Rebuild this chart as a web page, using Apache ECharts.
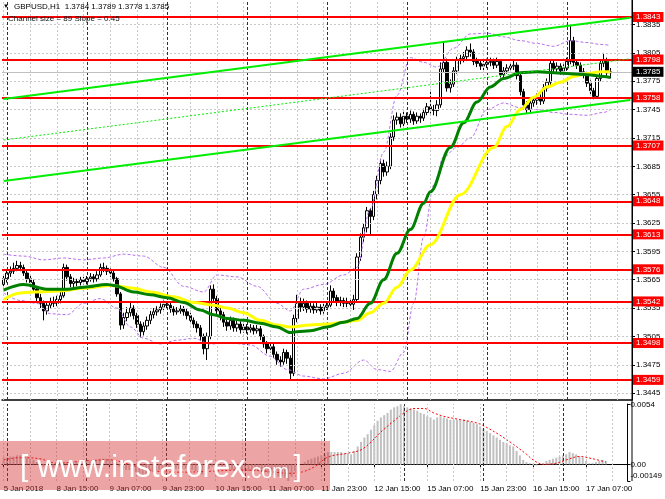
<!DOCTYPE html>
<html><head><meta charset="utf-8">
<script src="https://cdn.jsdelivr.net/npm/echarts@6/dist/echarts.min.js"></script>
<style>html,body{margin:0;padding:0;background:#fff}#c{width:665px;height:499px}</style>
</head><body><div id="c"></div>
<script>
const FONT = '"Liberation Sans", Arial, sans-serif';
const symbolName = 'GBPUSD,H1';
const channelText = 'Channel size = 89 Slope = 0.45';
const firstOpen = 1.3560;
const closes = [
1.3566,1.3572,1.3574,1.3577,1.3580,1.3578,1.3572,1.3566,1.3562,1.3555,
1.3546,1.3540,1.3532,1.3538,1.3542,1.3540,1.3544,1.3548,1.3578,1.3568,
1.3561,1.3563,1.3562,1.3565,1.3563,1.3566,1.3568,1.3566,1.3570,1.3578,
1.3577,1.3574,1.3572,1.3566,1.3550,1.3517,1.3525,1.3530,1.3535,1.3527,
1.3518,1.3510,1.3516,1.3522,1.3528,1.3531,1.3533,1.3536,1.3539,1.3538,
1.3534,1.3531,1.3532,1.3534,1.3531,1.3527,1.3522,1.3518,1.3514,1.3505,
1.3492,1.3505,1.3555,1.3545,1.3532,1.3528,1.3520,1.3516,1.3522,1.3514,
1.3518,1.3512,1.3515,1.3512,1.3514,1.3511,1.3513,1.3505,1.3497,1.3492,
1.3494,1.3486,1.3480,1.3478,1.3488,1.3482,1.3466,1.3524,1.3540,1.3536,
1.3540,1.3534,1.3537,1.3533,1.3536,1.3532,1.3536,1.3538,1.3553,1.3546,
1.3541,1.3543,1.3540,1.3542,1.3539,1.3544,1.3589,1.3610,1.3620,1.3638,
1.3632,1.3655,1.3670,1.3688,1.3679,1.3685,1.3716,1.3734,1.3737,1.3730,
1.3738,1.3735,1.3740,1.3733,1.3738,1.3736,1.3742,1.3748,1.3745,1.3744,
1.3750,1.3788,1.3795,1.3768,1.3772,1.3786,1.3797,1.3799,1.3801,1.3808,
1.3806,1.3796,1.3794,1.3791,1.3793,1.3795,1.3796,1.3792,1.3796,1.3782,
1.3786,1.3789,1.3791,1.3792,1.3781,1.3764,1.3750,1.3745,1.3752,1.3755,
1.3758,1.3754,1.3768,1.3774,1.3794,1.3788,1.3791,1.3786,1.3789,1.3796,
1.3818,1.3795,1.3792,1.3785,1.3782,1.3773,1.3765,1.3759,1.3778,1.3794,
1.3797,1.3784,1.3785];
const highs = [
1.3570,1.3576,1.3579,1.3583,1.3585,1.3584,1.3581,1.3575,1.3569,1.3565,
1.3558,1.3550,1.3543,1.3541,1.3546,1.3547,1.3548,1.3553,1.3582,1.3581,
1.3571,1.3567,1.3566,1.3568,1.3568,1.3569,1.3572,1.3571,1.3574,1.3582,
1.3583,1.3580,1.3577,1.3575,1.3568,1.3552,1.3530,1.3536,1.3541,1.3538,
1.3530,1.3521,1.3520,1.3526,1.3532,1.3535,1.3537,1.3540,1.3543,1.3542,
1.3541,1.3537,1.3536,1.3538,1.3537,1.3534,1.3530,1.3525,1.3521,1.3517,
1.3508,1.3509,1.3559,1.3560,1.3548,1.3537,1.3531,1.3524,1.3526,1.3525,
1.3522,1.3521,1.3519,1.3518,1.3518,1.3517,1.3517,1.3516,1.3507,1.3500,
1.3498,1.3497,1.3489,1.3484,1.3492,1.3491,1.3485,1.3528,1.3549,1.3546,
1.3545,1.3543,1.3541,1.3540,1.3541,1.3539,1.3540,1.3542,1.3559,1.3556,
1.3549,1.3547,1.3546,1.3546,1.3545,1.3549,1.3593,1.3614,1.3625,1.3642,
1.3641,1.3659,1.3675,1.3693,1.3692,1.3690,1.3720,1.3739,1.3742,1.3741,
1.3743,1.3742,1.3744,1.3743,1.3742,1.3741,1.3746,1.3752,1.3766,1.3750,
1.3755,1.3795,1.3817,1.3799,1.3777,1.3790,1.3801,1.3803,1.3806,1.3812,
1.3815,1.3809,1.3800,1.3797,1.3797,1.3799,1.3800,1.3799,1.3800,1.3798,
1.3790,1.3793,1.3795,1.3797,1.3795,1.3784,1.3767,1.3754,1.3756,1.3759,
1.3762,1.3761,1.3772,1.3778,1.3798,1.3797,1.3795,1.3794,1.3793,1.3800,
1.3835,1.3822,1.3798,1.3795,1.3789,1.3785,1.3776,1.3768,1.3781,1.3798,
1.3805,1.3800,1.3789];
const lows = [
1.3556,1.3562,1.3568,1.3571,1.3574,1.3574,1.3569,1.3562,1.3558,1.3551,
1.3542,1.3535,1.3522,1.3528,1.3534,1.3536,1.3537,1.3540,1.3546,1.3564,
1.3557,1.3557,1.3558,1.3559,1.3560,1.3560,1.3563,1.3562,1.3563,1.3568,
1.3573,1.3570,1.3568,1.3563,1.3547,1.3512,1.3513,1.3521,1.3526,1.3523,
1.3514,1.3504,1.3506,1.3512,1.3518,1.3524,1.3527,1.3529,1.3532,1.3534,
1.3530,1.3527,1.3528,1.3529,1.3527,1.3523,1.3518,1.3514,1.3509,1.3500,
1.3486,1.3480,1.3502,1.3541,1.3528,1.3522,1.3515,1.3511,1.3512,1.3510,
1.3510,1.3508,1.3509,1.3508,1.3509,1.3507,1.3508,1.3501,1.3493,1.3487,
1.3488,1.3482,1.3475,1.3473,1.3475,1.3476,1.3459,1.3463,1.3520,1.3531,
1.3532,1.3530,1.3530,1.3529,1.3530,1.3528,1.3529,1.3533,1.3536,1.3542,
1.3537,1.3537,1.3536,1.3536,1.3535,1.3533,1.3541,1.3585,1.3605,1.3615,
1.3612,1.3628,1.3650,1.3666,1.3674,1.3675,1.3682,1.3712,1.3729,1.3726,
1.3727,1.3731,1.3731,1.3729,1.3730,1.3731,1.3733,1.3739,1.3741,1.3739,
1.3738,1.3747,1.3784,1.3764,1.3763,1.3769,1.3783,1.3793,1.3795,1.3797,
1.3801,1.3792,1.3790,1.3787,1.3787,1.3789,1.3791,1.3788,1.3789,1.3779,
1.3778,1.3783,1.3785,1.3787,1.3777,1.3760,1.3746,1.3741,1.3742,1.3748,
1.3750,1.3750,1.3751,1.3764,1.3771,1.3784,1.3785,1.3782,1.3783,1.3786,
1.3793,1.3791,1.3788,1.3781,1.3778,1.3769,1.3761,1.3756,1.3757,1.3775,
1.3790,1.3780,1.3778];
const slotCount = 189;
const xTickEvery = 16;
const xTickLabels = ['5 Jan 2018','8 Jan 15:00','9 Jan 07:00','9 Jan 23:00','10 Jan 15:00','11 Jan 07:00','11 Jan 23:00','12 Jan 15:00','15 Jan 07:00','15 Jan 23:00','16 Jan 15:00','17 Jan 07:00'];
const gridEvery = 8;
const daySeparators = [1,25,49,73,97,121,145,169];
const priceMin = 1.34377, priceMax = 1.38610;
const priceTicks = [1.3445,1.3475,1.3505,1.3535,1.3565,1.3595,1.3625,1.3655,1.3685,1.3715,1.3745,1.3775,1.3805,1.3835];
const levels = [1.3843,1.3798,1.3758,1.3707,1.3648,1.3613,1.3576,1.3542,1.3498,1.3459];
const maGreen = [[0,1.3554],[6,1.3560],[13,1.3555],[19,1.3555],[24,1.3557],[31,1.3560],[33,1.3559],[39,1.3552],[44,1.3549],[49,1.3546],[54,1.3541],[59,1.3533],[63,1.3528],[67,1.3524],[72,1.3522],[77,1.3519],[82,1.3515],[86,1.3509],[88,1.3510],[92,1.3511],[97,1.3515],[102,1.3520],[106,1.3524],[110,1.3540],[114,1.3565],[118,1.3593],[122,1.3618],[126,1.3646],[128,1.3658],[134,1.3705],[138,1.3731],[142,1.3753],[146,1.3769],[150,1.3778],[155,1.3784],[160,1.3785],[165,1.3784],[170,1.3783],[175,1.3782],[180,1.3780],[182,1.3779]];
const maYellow = [[0,1.3544],[5,1.3551],[9,1.3552],[17,1.3553],[24,1.3556],[32,1.3559],[39,1.3556],[44,1.3552],[51,1.3547],[57,1.3541],[63,1.3538],[67,1.3535],[72,1.3530],[77,1.3522],[82,1.3517],[86,1.3515],[92,1.3517],[97,1.3518],[102,1.3520],[106,1.3522],[110,1.3530],[114,1.3540],[118,1.3557],[122,1.3575],[128,1.3602],[137,1.3655],[147,1.3705],[151,1.3727],[155,1.3745],[159,1.3758],[163,1.3769],[167,1.3774],[171,1.3780],[175,1.3783],[179,1.3785],[182,1.3785]];
const bandUpper = [[0,1.3592],[6,1.3590],[12,1.3586],[18,1.3588],[24,1.3586],[30,1.3588],[36,1.3592],[42,1.3590],[48,1.3578],[54,1.3558],[60,1.3552],[64,1.3570],[70,1.3568],[76,1.3558],[82,1.3540],[86,1.3532],[90,1.3555],[96,1.3560],[102,1.3570],[106,1.3578],[110,1.3640],[114,1.3700],[118,1.3760],[122,1.3800],[126,1.3795],[130,1.3790],[135,1.3810],[140,1.3825],[145,1.3826],[150,1.3822],[155,1.3818],[160,1.3815],[165,1.3812],[170,1.3818],[175,1.3816],[179,1.3814],[182,1.3813]];
const bandLower = [[0,1.3551],[5,1.3543],[10,1.3540],[14,1.3529],[19,1.3528],[24,1.3540],[29,1.3545],[34,1.3535],[38,1.3515],[42,1.3503],[47,1.3497],[52,1.3501],[57,1.3503],[62,1.3497],[68,1.3498],[74,1.3496],[80,1.3484],[85,1.3470],[90,1.3463],[96,1.3460],[102,1.3466],[108,1.3480],[112,1.3470],[116,1.3468],[120,1.3488],[123,1.3540],[126,1.3610],[129,1.3665],[132,1.3695],[136,1.3705],[140,1.3715],[145,1.3745],[150,1.3752],[155,1.3747],[160,1.3745],[165,1.3742],[170,1.3740],[175,1.3739],[180,1.3742],[182,1.3745]];
const channelUpper = [[0,1.37562],[188,1.38422]];
const channelMiddle = [[0,1.37128],[188,1.37988]];
const channelLower = [[0,1.36695],[188,1.37552]];
const macdHist = [
0.0006,0.0006,0.0007,0.0007,0.0008,0.0008,0.0007,0.0006,0.0005,0.0004,
0.0002,0.0000,-0.0002,-0.0003,-0.0003,-0.0003,-0.0003,-0.0002,0.0001,0.0002,
0.0002,0.0002,0.0002,0.0002,0.0003,0.0003,0.0003,0.0003,0.0004,0.0005,
0.0005,0.0005,0.0005,0.0004,0.0002,-0.0002,-0.0004,-0.0005,-0.0005,-0.0006,
-0.0007,-0.0009,-0.0009,-0.0009,-0.0008,-0.0007,-0.0006,-0.0005,-0.0004,-0.0004,
-0.0004,-0.0004,-0.0004,-0.0004,-0.0004,-0.0004,-0.0005,-0.0005,-0.0006,-0.0007,
-0.0009,-0.0009,-0.0004,-0.0002,-0.0002,-0.0002,-0.0003,-0.0004,-0.0004,-0.0005,
-0.0005,-0.0006,-0.0006,-0.0006,-0.0006,-0.0006,-0.0006,-0.0006,-0.0007,-0.0007,
-0.0008,-0.0009,-0.0010,-0.0011,-0.0011,-0.0012,-0.00149,-0.0011,-0.0006,-0.0003,
0.0000,0.0002,0.0004,0.0005,0.0006,0.0007,0.0008,0.0009,0.0011,0.0011,
0.0011,0.0011,0.0011,0.0010,0.0010,0.0009,0.0012,0.0016,0.0020,0.0024,
0.0027,0.0031,0.0035,0.0039,0.0042,0.0044,0.0046,0.0049,0.0051,0.0052,
0.0054,0.0052,0.0051,0.0050,0.0049,0.0048,0.0046,0.0045,0.0043,0.0042,
0.0040,0.0042,0.0043,0.0042,0.0041,0.0040,0.0040,0.0040,0.0040,0.0040,
0.0039,0.0038,0.0037,0.0036,0.0034,0.0032,0.0030,0.0028,0.0026,0.0024,
0.0022,0.0020,0.0019,0.0017,0.0016,0.0012,0.0008,0.0004,0.0002,0.0001,
-0.0001,-0.0001,0.0000,0.0001,0.0003,0.0004,0.0005,0.0006,0.0007,0.0008,
0.0009,0.0011,0.0010,0.0009,0.0007,0.0006,0.0003,0.0001,0.0001,0.0002,
0.0003,0.0004,0.0003];
const macdSignal = [[0,0.0004],[5,0.0006],[11,0.0005],[16,0.0001],[24,0.0003],[32,0.0004],[39,-0.0001],[46,-0.0006],[54,-0.0007],[64,-0.0006],[71,-0.0005],[79,-0.0006],[86,-0.0008],[90,-0.0007],[94,-0.0002],[98,0.00065],[104,0.0010],[108,0.0013],[111,0.0020],[114,0.0029],[118,0.0039],[121,0.0046],[124,0.0050],[127,0.0050],[130,0.0046],[133,0.0043],[138,0.0040],[143,0.0037],[146,0.0033],[150,0.0026],[154,0.0018],[158,0.0009],[160,0.0004],[163,0.0000],[167,0.0001],[170,0.0004],[174,0.0007],[178,0.0005],[182,0.0002]];
const macdMin = -0.00149, macdMax = 0.0054;
const macdTicks = [0.0054, 0, -0.00149];

const chart = echarts.init(document.getElementById('c'), null, {renderer:'canvas', width:665, height:499});
const cats = Array.from({length: slotCount}, (_, i) => i);
const candleData = closes.map((c, i) => {
  const o = i === 0 ? firstOpen : closes[i - 1];
  return [o, c, Math.min(lows[i], o, c), Math.max(highs[i], o, c)];
});
const last = candleData[candleData.length - 1];
const gridCols = cats.filter(i => i % gridEvery === 0);

const lightV = gridCols.map(i => ({xAxis: i}));
const darkV = daySeparators.map(i => ({xAxis: i, lineStyle: {color: '#303030', type: [3, 2], width: 1}}));
const lightH = priceTicks.map(v => ({yAxis: v}));
const ml = (data, style) => ({symbol: ['none','none'], precision: 6, silent: true, animation: false, label: {show: false}, lineStyle: style, data});
const gridStyle = {color: '#c8c8c8', type: [2, 2], width: 1};

const lineS = (name, data, color, width, type, z) => ({
  name, type: 'line', xAxisIndex: 0, yAxisIndex: 0, data, smooth: 0.35, smoothMonotone: 'x',
  showSymbol: false, symbol: 'none', silent: true, animation: false, z,
  lineStyle: {color, width, type}
});

const macdLabel = v => {
  const n = Number(v);
  if (n === macdMax) return '{t|' + String(n) + '}';
  if (n === macdMin) return '{b|' + String(n) + '}';
  return n === 0 ? '0.00' : String(n);
};

const option = {
  animation: false,
  backgroundColor: '#ffffff',
  textStyle: {fontFamily: FONT},
  grid: [
    {left: 2, width: 630, top: 0, height: 400},
    {left: 2, width: 630, top: 404, height: 77}
  ],
  xAxis: [
    {type: 'category', gridIndex: 0, data: cats, boundaryGap: true,
     axisLine: {show: true, lineStyle: {color: '#000', width: 1.5}}, axisTick: {show: false}, axisLabel: {show: false}, splitLine: {show: false}},
    {type: 'category', gridIndex: 1, data: cats, boundaryGap: true,
     axisLine: {show: true, lineStyle: {color: '#000', width: 1}},
     axisTick: {show: true, alignWithLabel: true, length: 3, interval: (i) => i % xTickEvery === 0, lineStyle: {color: '#000'}},
     axisLabel: {show: true, interval: (i) => i % xTickEvery === 0, align: 'left', margin: 4, fontSize: 8, color: '#000', fontFamily: FONT,
       formatter: (v, idx) => xTickLabels[Math.round(Number(v) / xTickEvery)] || ''},
     splitLine: {show: false}}
  ],
  yAxis: [
    {type: 'value', gridIndex: 0, position: 'right', min: priceMin, max: priceMax, scale: true,
     axisLine: {show: true, lineStyle: {color: '#000', width: 1}},
     axisTick: {show: true, length: 3, customValues: priceTicks, lineStyle: {color: '#000'}},
     axisLabel: {show: true, customValues: priceTicks, formatter: v => Number(v).toFixed(4), margin: 4, fontSize: 8, color: '#000', fontFamily: FONT},
     splitLine: {show: false}},
    {type: 'value', gridIndex: 1, position: 'right', min: macdMin, max: macdMax,
     axisLine: {show: true, lineStyle: {color: '#000', width: 1}},
     axisTick: {show: true, length: 3, customValues: macdTicks, lineStyle: {color: '#000'}},
     axisLabel: {show: true, customValues: macdTicks, margin: 3, fontSize: 8, color: '#000', fontFamily: FONT,
       formatter: macdLabel,
       rich: {t: {fontSize: 8, fontFamily: FONT, color: '#000', padding: [2, 0, 0, 0]},
              b: {fontSize: 8, fontFamily: FONT, color: '#000', padding: [0, 0, 11, 0]}}},
     splitLine: {show: false}}
  ],
  series: [
    {type: 'line', xAxisIndex: 0, yAxisIndex: 0, data: [], z: 1, silent: true,
     markLine: ml(lightV.concat(lightH).concat(darkV), gridStyle)},
    {type: 'line', xAxisIndex: 1, yAxisIndex: 1, data: [], z: 1, silent: true,
     markLine: ml(lightV.concat(darkV), gridStyle)},
    {type: 'candlestick', xAxisIndex: 0, yAxisIndex: 0, data: candleData, barWidth: 2.6, z: 3, silent: true, animation: false,
     itemStyle: {color: '#ffffff', color0: '#000000', borderColor: '#000000', borderColor0: '#000000', borderWidth: 1},
     markLine: {symbol: ['none','none'], precision: 6, silent: true, animation: false,
       data: [{yAxis: last[1]}],
       lineStyle: {color: '#c0c0c0', width: 1, type: 'solid'},
       label: {show: true, position: 'end', distance: 1, formatter: p => Number(p.value).toFixed(4), color: '#fff', backgroundColor: '#000', padding: [1, 3, 0, 3], fontSize: 8, fontFamily: FONT, lineHeight: 9}}},
    lineS('bbU', bandUpper, '#b86fee', 1, [3, 2], 4),
    lineS('bbL', bandLower, '#b86fee', 1, [3, 2], 4),
    lineS('ma50', maYellow, '#ffff00', 3, 'solid', 5),
    lineS('ma30', maGreen, '#008000', 3, 'solid', 6),
    Object.assign(lineS('chU', channelUpper, '#00ee00', 2, 'solid', 6), {smooth: false}),
    Object.assign(lineS('chM', channelMiddle, '#00ee00', 1, [2, 2], 6), {smooth: false}),
    Object.assign(lineS('chL', channelLower, '#00ee00', 2, 'solid', 6), {smooth: false}),
    {type: 'line', xAxisIndex: 0, yAxisIndex: 0, data: [], z: 7, silent: true,
     markLine: {symbol: ['none','none'], precision: 6, silent: true, animation: false,
       lineStyle: {color: '#ff0000', width: 2, type: 'solid'},
       label: {show: true, position: 'end', distance: 1, formatter: p => Number(p.value).toFixed(4), color: '#fff', backgroundColor: '#ff0000', padding: [1, 3, 0, 3], fontSize: 8, fontFamily: FONT, lineHeight: 9},
       data: levels.map(v => ({yAxis: v}))}},
    {type: 'bar', xAxisIndex: 1, yAxisIndex: 1, data: macdHist, barWidth: 2, silent: true, animation: false, z: 3,
     itemStyle: {color: '#c0c0c0'}},
    {type: 'line', xAxisIndex: 1, yAxisIndex: 1, data: macdSignal, smooth: 0.35, showSymbol: false, symbol: 'none', silent: true, animation: false, z: 4,
     lineStyle: {color: '#ff0000', width: 1, type: [2, 2]}}
  ],
  graphic: [
    {type: 'line', silent: true, z: 50, shape: {x1: 632, y1: 0, x2: 632, y2: 481}, style: {stroke: '#000', lineWidth: 1}},
    {type: 'text', silent: true, z: 50, left: 3, top: 3, style: {text: '\u25BC', fontSize: 6, fill: '#000', fontFamily: FONT}},
    {type: 'text', silent: true, z: 50, left: 14, top: 3,
     style: {text: symbolName + '  ' + [last[0], last[3], last[2], last[1]].map(v => v.toFixed(4)).join(' '), fontSize: 8, fill: '#000', fontFamily: FONT}},
    {type: 'text', silent: true, z: 50, left: 8, top: 15, style: {text: channelText, fontSize: 8, fill: '#111', fontFamily: FONT}},
    {type: 'rect', silent: true, z: 60, shape: {x: 0, y: 441, width: 330, height: 49}, style: {fill: 'rgba(214,54,54,0.45)'}},
    {type: 'text', silent: true, z: 61, x: 20, y: 468,
     style: {text: '{b|[}{s|  }{m|www.instaforex}{c|.com}{s| }{b|]}', fill: '#fff', verticalAlign: 'middle', fontFamily: FONT,
       rich: {b: {fontSize: 30, fill: '#fff', fontFamily: FONT}, s: {fontSize: 16, fontFamily: FONT}, m: {fontSize: 31, fill: '#fff', fontFamily: FONT}, c: {fontSize: 20, fill: '#fff', fontFamily: FONT, padding: [8, 0, 0, 0]}}}}
  ]
};
chart.setOption(option);
</script>
</body></html>
